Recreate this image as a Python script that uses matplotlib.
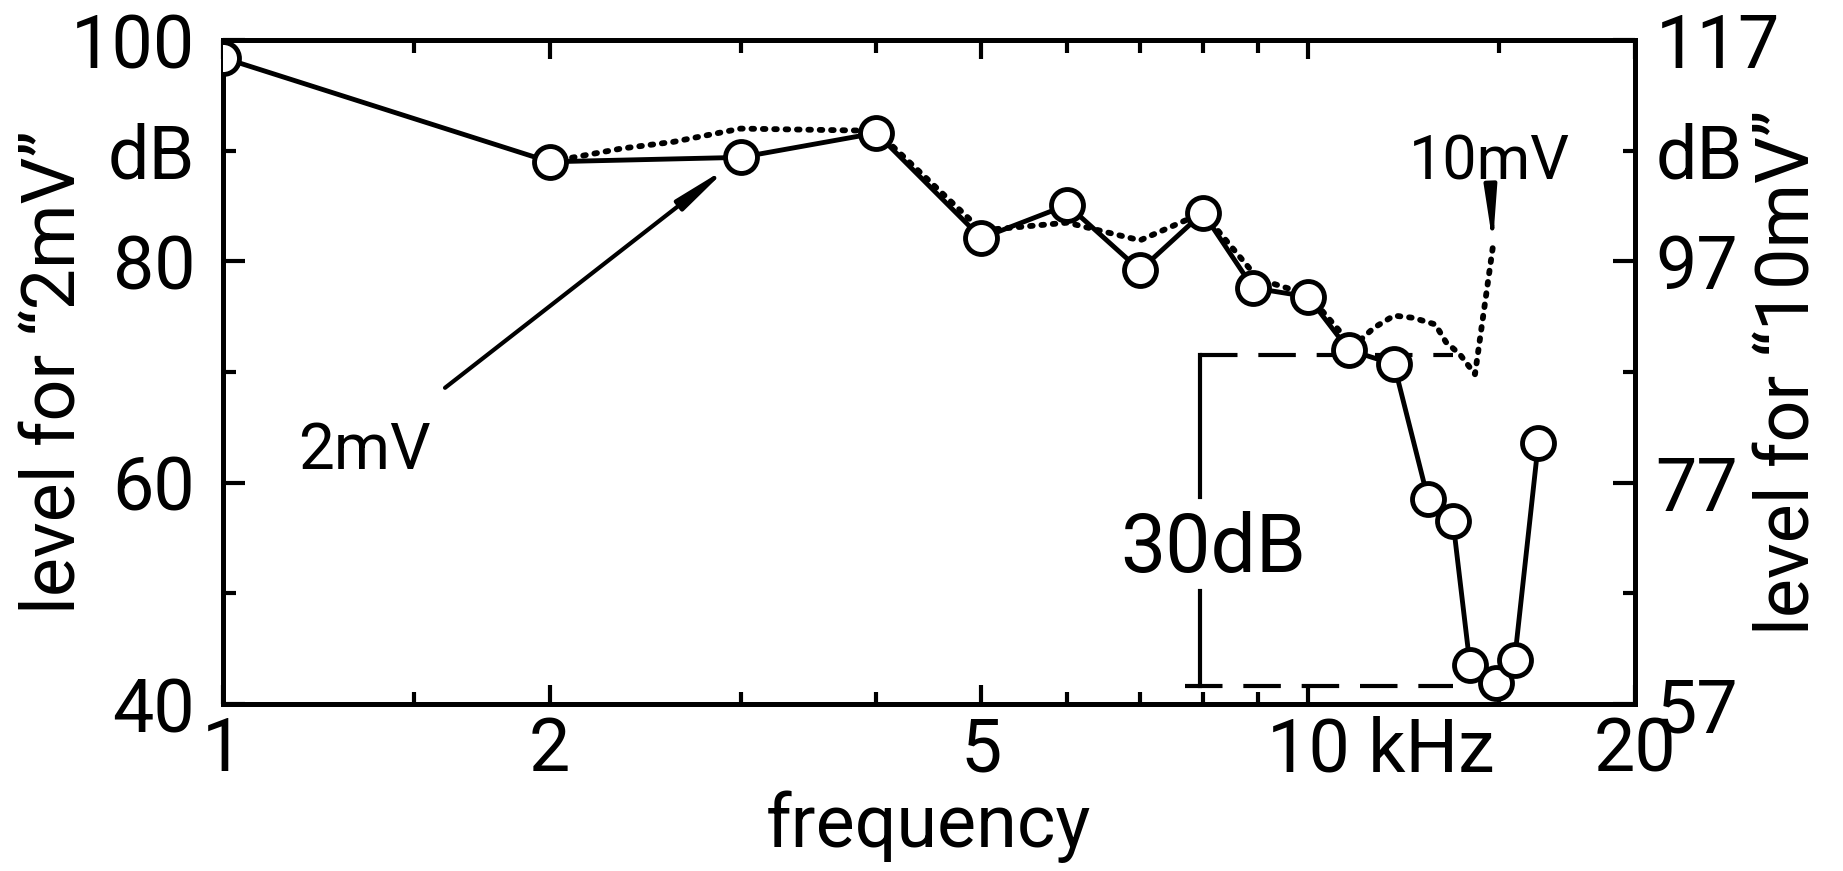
import matplotlib
matplotlib.use('Agg')
import matplotlib.pyplot as plt
from matplotlib.transforms import ScaledTranslation

plt.rcParams['font.family'] = ['Roboto', 'DejaVu Sans']

# "2mV" curve, read against the left axis (dB)
freq_2mv = [1, 2, 3, 4, 5, 6, 7, 8, 8.9, 10, 10.9, 12, 12.9, 13.6, 14.1, 14.9, 15.5, 16.3]
level_2mv = [98.4, 89.0, 89.4, 91.6, 82.1, 85.1, 79.2, 84.4, 77.6, 76.8, 72.0, 70.7,
             58.5, 56.5, 43.5, 41.9, 44.0, 63.6]

# "10mV" curve, read against the right axis (dB)
freq_10mv = [2, 2.33, 2.6, 3, 4, 5, 6, 7, 8, 9, 10, 11, 11.5, 12, 12.5, 13.1, 13.4, 13.8, 14.25, 14.8]
level_10mv = [106.0, 107.2, 107.8, 109.0, 108.8, 99.8, 100.5, 98.9, 101.4, 95.4, 94.0, 89.3,
              91.0, 92.1, 91.9, 91.3, 89.7, 88.6, 86.8, 98.3]

x_ticks = [1, 2, 5, 10, 20]
x_labels = ['1', '2', '5', '10 kHz', '20']
x_minor = [1.5, 3, 4, 6, 7, 8, 9, 15]
left_ticks = [40, 60, 80, 100]
left_minor = [50, 70, 90]
left_minor_labels = ['', '', 'dB']
right_ticks = [57, 77, 97, 117]
right_minor = [67, 87, 107]
right_minor_labels = ['', '', 'dB']

# 30 dB bracket
bracket_x = 7.95
bracket_top = 71.5
bracket_bottom = 41.6
bracket_gap = (50.2, 58.7)
bracket_end = 13.6

fs = 53
lw = 3.5

fig = plt.figure(figsize=(18.43, 8.71), dpi=100)
ax = fig.add_axes([0.121, 0.1917, 0.766, 0.7623])
ax2 = ax.twinx()

ax.set_xscale('log')
ax.set_xlim(1, 20)
ax.set_ylim(40, 100)
ax2.set_ylim(57, 117)

ax2.plot(freq_10mv, level_10mv, color='black', lw=4.2, linestyle=(0, (0.45, 1.5)),
         dash_capstyle='round', zorder=2)
ax.plot(freq_2mv, level_2mv, color='black', lw=lw, marker='o', ms=23,
        mfc='white', mec='black', mew=3.5, zorder=3)

# circles on top of the dotted curve
ax.set_zorder(ax2.get_zorder() + 1)
ax.patch.set_visible(False)

# 30 dB bracket
ax.plot([bracket_x, bracket_end], [bracket_top, bracket_top], color='black', lw=3,
        linestyle=(0, (9, 5)))
ax.plot([7.7, bracket_end], [bracket_bottom, bracket_bottom], color='black', lw=3,
        linestyle=(0, (9, 5)))
ax.plot([bracket_x, bracket_x], [bracket_top, bracket_gap[1]], color='black', lw=3)
ax.plot([bracket_x, bracket_x], [bracket_gap[0], bracket_bottom], color='black', lw=3)
ax.text(8.17, 53.9, '30dB', fontsize=58, ha='center', va='center')

# curve labels
ax.annotate('2mV', xy=(3, 89.4), xytext=(1.35, 62.9), fontsize=46,
            ha='center', va='center',
            arrowprops=dict(arrowstyle='-|>,head_length=0.7,head_width=0.08', lw=3,
                            color='black', shrinkA=34, shrinkB=11))
ax2.annotate('10mV', xy=(14.8, 98.6), xytext=(14.7, 105.9), fontsize=44,
             ha='center', va='center',
             arrowprops=dict(arrowstyle='-|>,head_length=0.7,head_width=0.08', lw=3,
                             color='black', shrinkA=20, shrinkB=0))

# ticks
ax.set_xticks(x_ticks, x_labels)
ax.set_xticks(x_minor, minor=True)
ax.xaxis.set_minor_formatter(plt.NullFormatter())
ax.set_yticks(left_ticks)
ax.set_yticks(left_minor, left_minor_labels, minor=True)
ax2.set_yticks(right_ticks)
ax2.set_yticks(right_minor, right_minor_labels, minor=True)

ax.tick_params(axis='x', which='both', direction='in', top=True, bottom=True,
               labelsize=fs, width=3, pad=8)
ax.tick_params(axis='x', which='major', length=14)
ax.tick_params(axis='x', which='minor', length=9)
ax.tick_params(axis='y', which='both', direction='in', labelsize=fs, width=3, pad=20)
ax.tick_params(axis='y', which='major', length=16)
ax.tick_params(axis='y', which='minor', length=9)
ax2.tick_params(axis='y', which='both', direction='in', labelsize=fs, width=3, pad=15)
ax2.tick_params(axis='y', which='major', length=16)
ax2.tick_params(axis='y', which='minor', length=9)

for lab in ax.get_xticklabels():
    if lab.get_text() == '10 kHz':
        lab.set_horizontalalignment('left')
        lab.set_transform(lab.get_transform() + ScaledTranslation(-0.41, 0, fig.dpi_scale_trans))

for sp in ax.spines.values():
    sp.set_linewidth(3.5)
for sp in ax2.spines.values():
    sp.set_linewidth(3.5)

ax.set_xlabel('frequency', fontsize=fs)
ax.xaxis.set_label_coords(0.5, -0.13)
ax.set_ylabel('level for \u201c2mV\u201d', fontsize=fs)
ax.yaxis.set_label_coords(-0.094, 0.5)
ax2.set_ylabel('level for \u201c10mV\u201d', fontsize=fs)
ax2.yaxis.set_label_coords(1.084, 0.5)

fig.savefig('out.png', dpi=100)
